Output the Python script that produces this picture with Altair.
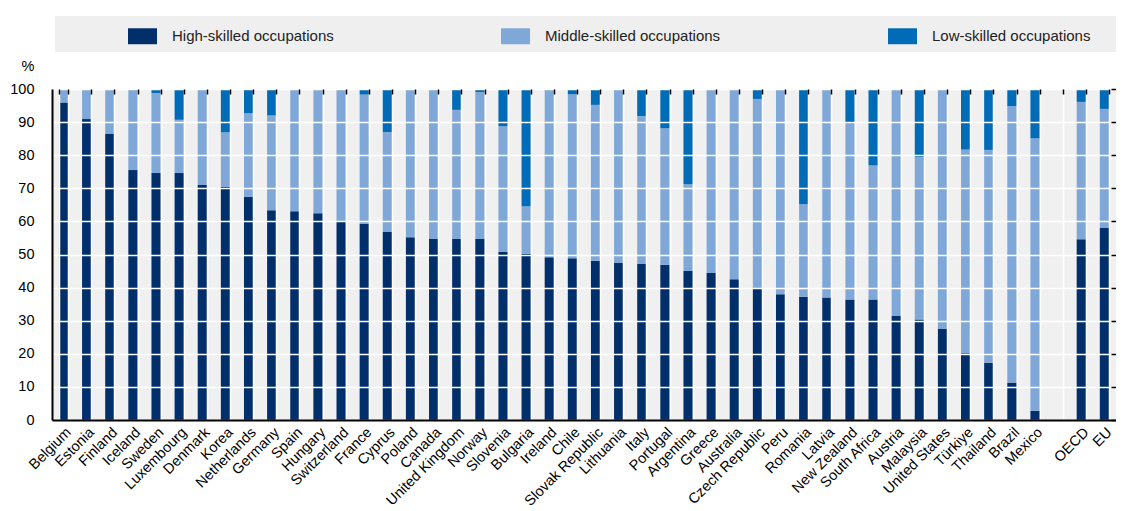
import altair as alt
import pandas as pd

countries = ["Belgium", "Estonia", "Finland", "Iceland", "Sweden", "Luxembourg", "Denmark", "Korea",
             "Netherlands", "Germany", "Spain", "Hungary", "Switzerland", "France", "Cyprus", "Poland",
             "Canada", "United Kingdom", "Norway", "Slovenia", "Bulgaria", "Ireland", "Chile",
             "Slovak Republic", "Lithuania", "Italy", "Portugal", "Argentina", "Greece", "Australia",
             "Czech Republic", "Peru", "Romania", "Latvia", "New Zealand", "South Africa", "Austria",
             "Malaysia", "United States", "Türkiye", "Thailand", "Brazil", "Mexico"]
aggregates = ["OECD", "EU"]

high = [95.9, 90.9, 86.4, 75.5, 74.6, 74.6, 71.0, 70.4, 67.4, 63.4, 63.1, 62.5, 59.8, 59.2, 56.8, 55.2,
        54.7, 54.7, 54.7, 50.8, 50.2, 49.2, 48.9, 48.1, 47.4, 47.1, 46.9, 45.0, 44.4, 42.5, 39.8, 38.0,
        37.2, 37.0, 36.4, 36.4, 31.4, 30.4, 27.5, 20.2, 17.3, 11.3, 2.8, 54.6, 58.0]
middle = [4.1, 9.1, 13.6, 24.5, 24.2, 16.1, 29.0, 16.5, 25.3, 28.6, 36.9, 37.5, 40.2, 39.1, 30.2, 44.8,
          45.1, 39.0, 44.4, 38.0, 14.4, 50.8, 49.5, 47.1, 52.6, 44.7, 41.2, 26.2, 55.6, 57.5, 57.2, 62.0,
          28.0, 63.0, 53.5, 40.5, 68.6, 49.0, 72.5, 61.5, 64.3, 83.5, 82.3, 41.5, 36.0]
low = [0.0, 0.0, 0.0, 0.0, 1.2, 9.3, 0.0, 13.1, 7.3, 8.0, 0.0, 0.0, 0.0, 1.7, 13.0, 0.0,
       0.2, 6.3, 0.9, 11.2, 35.4, 0.0, 1.6, 4.8, 0.0, 8.2, 11.9, 28.8, 0.0, 0.0, 3.0, 0.0,
       34.8, 0.0, 10.1, 23.1, 0.0, 20.6, 0.0, 18.3, 18.4, 5.2, 14.9, 3.9, 6.0]

groups = ["High-skilled occupations", "Middle-skilled occupations", "Low-skilled occupations"]
colors = ["#002F6C", "#7FA8D9", "#006BB6"]
y_ticks = [0, 10, 20, 30, 40, 50, 60, 70, 80, 90, 100]

entities = countries + aggregates
x_domain = countries + [" "] + aggregates

rows = []
for i, c in enumerate(entities):
    for k, (g, v) in enumerate(zip(groups, [high[i], middle[i], low[i]])):
        rows.append({"country": c, "group": g, "value": v, "ord": k})
df = pd.DataFrame(rows)

FONT = "Liberation Sans"
AX = 14.5
x_scale = alt.Scale(domain=x_domain, paddingInner=0.6, paddingOuter=0.3)
y_scale = alt.Scale(domain=[0, 100], nice=False)

bars = alt.Chart(df).mark_bar().encode(
    x=alt.X("country:N", sort=None, scale=x_scale, title=None,
            axis=alt.Axis(labelAngle=-45, labelFontSize=AX, labelColor="#000", labelPadding=5,
                          labelLimit=300, ticks=False, tickSize=0, domain=True, domainColor="#000",
                          domainWidth=2, grid=True, gridColor="#ffffff", gridWidth=1.5,
                          tickBand="extent", zindex=1)),
    y=alt.Y("value:Q", stack="zero", scale=y_scale, title="%",
            axis=alt.Axis(values=y_ticks, labelFontSize=AX, labelColor="#000", labelPadding=18,
                          ticks=False, tickSize=0, domain=True, domainColor="#000", domainWidth=2,
                          grid=True, gridColor="#ffffff", gridWidth=1.5, titleAngle=0,
                          titleX=-18, titleY=-19, titleAlign="right", titleBaseline="alphabetic",
                          titleFontSize=AX, titleFontWeight="normal", titleColor="#000", zindex=1)),
    color=alt.Color("group:N", scale=alt.Scale(domain=groups, range=colors),
                    legend=alt.Legend(title=None, orient="none", legendX=76, legendY=-67.5,
                                      direction="horizontal", columns=3, columnPadding=167,
                                      symbolType="M-1,-0.55L1,-0.55L1,0.55L-1,0.55Z",
                                      symbolSize=841, symbolStrokeWidth=0, symbolOpacity=1,
                                      labelFontSize=15, labelOffset=15, labelColor="#222",
                                      padding=0, labelLimit=400)),
    order=alt.Order("ord:Q", sort="ascending"),
)

tick_layer = alt.Chart(df).mark_bar(opacity=0).encode(
    x=alt.X("country:N", sort=None, scale=x_scale, title=None,
            axis=alt.Axis(labels=False, domain=False, grid=False, ticks=True, tickSize=5,
                          tickWidth=1.5, tickColor="#000", offset=-5, tickBand="extent", zindex=1)),
    y=alt.Y("value:Q", stack="zero", scale=y_scale, title=None,
            axis=alt.Axis(values=y_ticks, labels=False, domain=False, grid=False, ticks=True,
                          tickSize=5, tickWidth=1.5, tickColor="#000", offset=-5, zindex=1)),
)

legend_box = alt.Chart(alt.Data(values=[{"a": 1}])).mark_rect(color="#efefef").encode(
    x=alt.value(3), x2=alt.value(1064), y=alt.value(-73), y2=alt.value(-37)
)

chart = alt.layer(legend_box, bars, tick_layer).resolve_axis(
    x="independent", y="independent"
).properties(
    width=1064, height=331, autosize="none",
    padding={"left": 44, "top": 81, "right": 0, "bottom": 90},
).configure(font=FONT).configure_view(fill="#f0f0f0", stroke=None)

chart.save("out.html", embed_options={"renderer": "svg", "actions": False})
